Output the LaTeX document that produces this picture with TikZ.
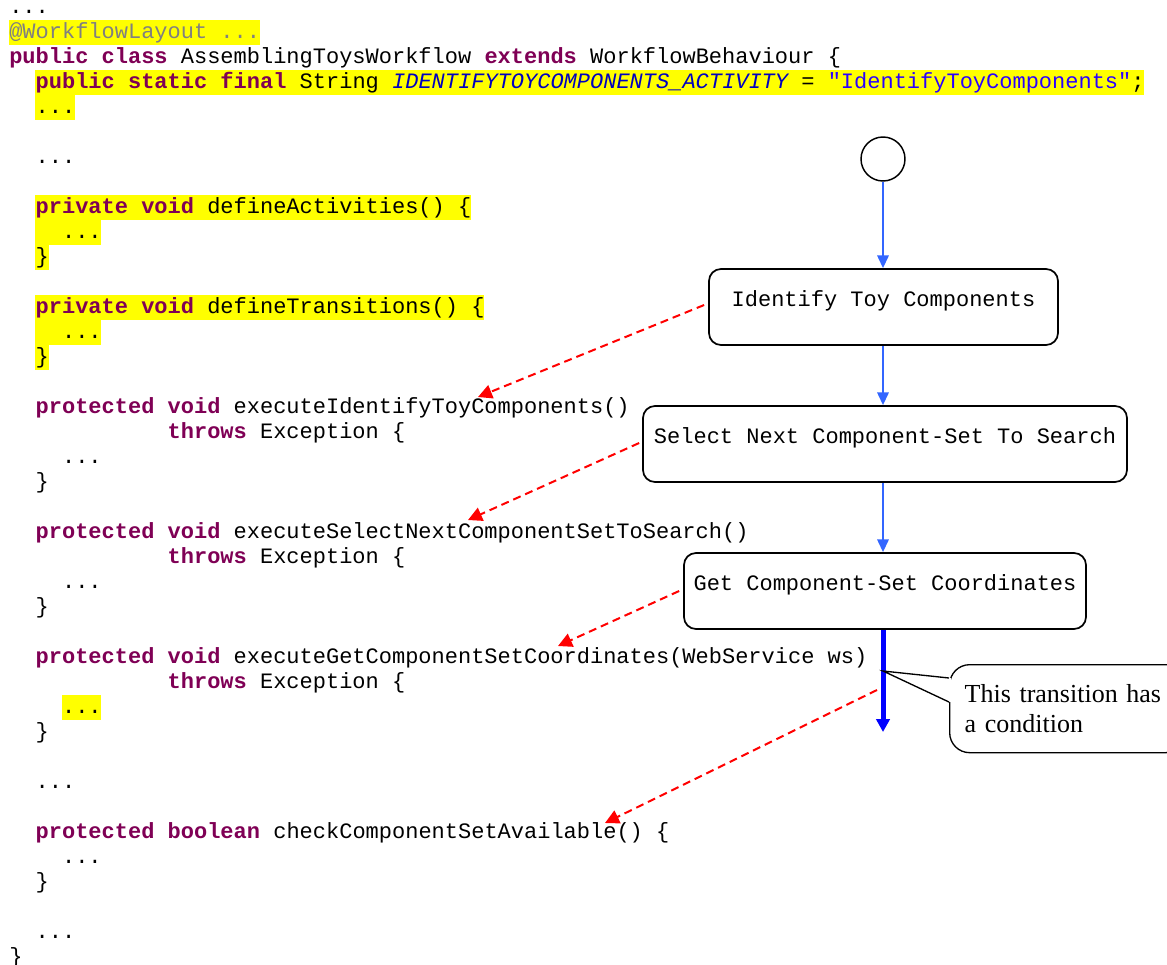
\documentclass[tikz,border=0pt]{standalone}
\usepackage{fontspec}
\setmainfont{Liberation Serif}
\setmonofont{Liberation Mono}
\usetikzlibrary{arrows.meta,calc}

\definecolor{kwcol}{RGB}{127,0,85}
\definecolor{annotcol}{RGB}{128,128,128}
\definecolor{constcol}{RGB}{0,0,192}
\definecolor{strcol}{RGB}{42,0,255}
\definecolor{hlcol}{RGB}{255,255,0}
\definecolor{flowblue}{RGB}{51,102,255}
\definecolor{condblue}{RGB}{0,0,255}
\definecolor{linkred}{RGB}{255,0,0}

% syntax colouring of the Java source
\newcommand\kwd[1]{\textcolor{kwcol}{\bfseries #1}}
\newcommand\constc[1]{\textcolor{constcol}{\itshape #1}}
\newcommand\strc[1]{\textcolor{strcol}{#1}}
\newcommand\annot[1]{\textcolor{annotcol}{#1}}
\newcommand\codefont{\ttfamily\fontsize{16.5pt}{18.75pt}\selectfont}

% one source line: row, column, text  (25 units per row, 13.2 units per column)
\newcommand\srcline[3]{\node[srcline] (src#1) at ({9+#2*13.2},{25*#1+13.3}) {#3};}
% yellow marker behind a row: row, first column, end column
\newcommand\hlrow[3]{\fill[hlcol] ({9+#2*13.2},{25*#1-5}) rectangle ({9+#3*13.2},{25*#1+20});}

\begin{document}
\begin{tikzpicture}[x=0.75pt,y=-0.75pt,
  srcline/.style={anchor=base west,inner sep=0pt,font=\codefont},
  actbox/.style={draw,line width=1.3pt,rounded corners=9pt,
    inner xsep=0pt,inner ysep=0pt,text height=27.75pt,text depth=29.25pt,
    font=\codefont},
  startnode/.style={draw,circle,line width=1.1pt,minimum size=33pt,inner sep=0pt},
  flow/.style={draw=flowblue,line width=1.6pt,-{Triangle[length=9.5pt,width=8.5pt]}},
  cond/.style={draw=condblue,line width=3.75pt,-{Triangle[length=9.75pt,width=10pt]}},
  link/.style={draw=linkred,line width=1.5pt,dash pattern=on 6pt off 3.75pt,
    -{Triangle[length=10.5pt,width=10.5pt]}},
  notebox/.style={draw,fill=white,line width=1pt,rounded corners=15pt,
    minimum width=177pt,minimum height=66pt,text width=154.5pt,
    inner xsep=11.25pt,align=left,
    font=\rmfamily\fontsize{19.5pt}{22.5pt}\selectfont}]

\useasboundingbox (0,0) rectangle (1167,964);
\clip (0,0) rectangle (1167,964);

% ---- highlighted rows ----
\hlrow{1}{0}{19}
\hlrow{3}{2}{86}
\hlrow{4}{2}{5}
\hlrow{8}{2}{35}
\hlrow{9}{2}{7}
\hlrow{10}{2}{3}
\hlrow{12}{2}{36}
\hlrow{13}{2}{7}
\hlrow{14}{2}{3}
\hlrow{28}{4}{7}

% ---- source listing ----
\srcline{0}{0}{...}
\srcline{1}{0}{\annot{@WorkflowLayout ...}}
\srcline{2}{0}{\kwd{public class} AssemblingToysWorkflow \kwd{extends} WorkflowBehaviour \{}
\srcline{3}{2}{\kwd{public static final} String \constc{IDENTIFYTOYCOMPONENTS\_ACTIVITY} = \strc{"IdentifyToyComponents"};}
\srcline{4}{2}{...}
\srcline{6}{2}{...}
\srcline{8}{2}{\kwd{private void} defineActivities() \{}
\srcline{9}{4}{...}
\srcline{10}{2}{\}}
\srcline{12}{2}{\kwd{private void} defineTransitions() \{}
\srcline{13}{4}{...}
\srcline{14}{2}{\}}
\srcline{16}{2}{\kwd{protected void} executeIdentifyToyComponents()}
\srcline{17}{12}{\kwd{throws} Exception \{}
\srcline{18}{4}{...}
\srcline{19}{2}{\}}
\srcline{21}{2}{\kwd{protected void} executeSelectNextComponentSetToSearch()}
\srcline{22}{12}{\kwd{throws} Exception \{}
\srcline{23}{4}{...}
\srcline{24}{2}{\}}
\srcline{26}{2}{\kwd{protected void} executeGetComponentSetCoordinates(WebService ws)}
\srcline{27}{12}{\kwd{throws} Exception \{}
\srcline{28}{4}{...}
\srcline{29}{2}{\}}
\srcline{31}{2}{...}
\srcline{33}{2}{\kwd{protected boolean} checkComponentSetAvailable() \{}
\srcline{34}{4}{...}
\srcline{35}{2}{\}}
\srcline{37}{2}{...}
\srcline{38}{0}{\}}

% ---- workflow ----
\node[startnode] (start) at (883,159) {};
\node[actbox,minimum width=261.75pt] (b1) at (883.5,307) {Identify Toy Components};
\node[actbox,minimum width=363pt] (b2) at (885,444) {Select Next Component-Set To Search};
\node[actbox,minimum width=301.5pt] (b3) at (885,591) {Get Component-Set Coordinates};
\coordinate (cend) at (883,732);

\draw[flow] (start.south) -- (start.south |- b1.north);
\draw[flow] (b1.south -| start) -- (b2.north -| start);
\draw[flow] (b2.south -| start) -- (b3.north -| start);
\draw[cond] (b3.south -| start) -- (cend);

% ---- note on the conditional transition ----
\coordinate (ptip) at (883,671);
\node[notebox,anchor=north west] (note) at (949,664) {This transition has\\a condition};
\fill[white] ($(note.north west)+(-1.5,14)$) rectangle ($(note.north west)+(2,38)$);
\draw[line width=1pt] ($(note.north west)+(0,14)$) -- (ptip) -- ($(note.north west)+(0,38)$);

% ---- links from activities to their methods ----
\coordinate (t1) at (478,397);
\coordinate (t2) at (468,520);
\coordinate (t3) at (558,646);
\coordinate (s4) at (877,690);
\coordinate (t4) at (605,823);
\draw[link] ($(b1.west)+(-4,-2)$) -- (t1);
\draw[link] ($(b2.west)+(-3,-1)$) -- (t2);
\draw[link] ($(b3.west)+(-4,0)$) -- (t3);
\draw[link] (s4) -- (t4);

\end{tikzpicture}
\end{document}
